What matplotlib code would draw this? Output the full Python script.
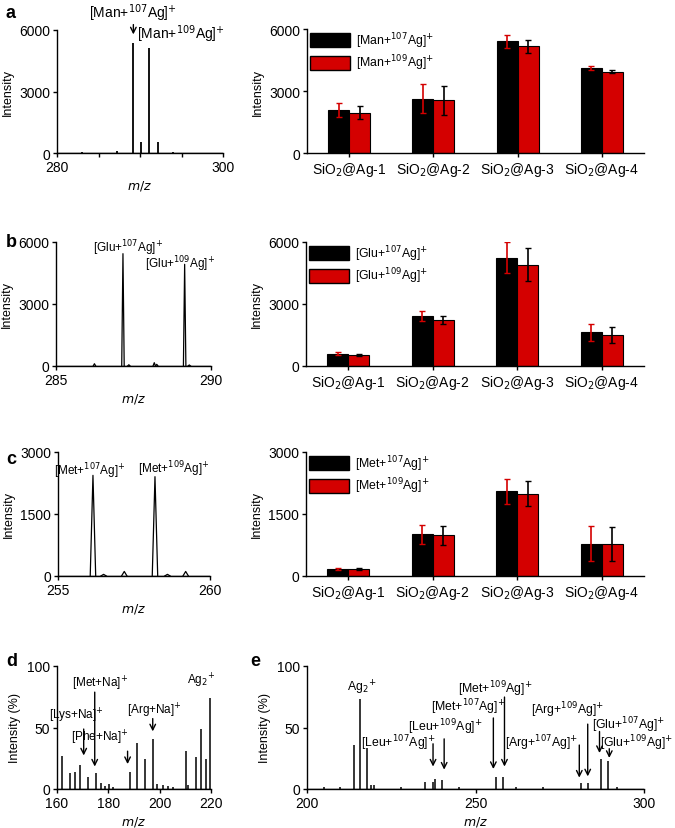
import matplotlib
matplotlib.use('Agg')
import matplotlib.pyplot as plt
from matplotlib.patches import Patch
import numpy as np

plt.rcParams['font.family'] = ['Liberation Sans', 'DejaVu Sans']
plt.rcParams['axes.linewidth'] = 1.0

W, H = 675, 829
RED = '#d40000'

# ---- bar data (a, b, c) ----
samples = ['SiO$_2$@Ag-1', 'SiO$_2$@Ag-2', 'SiO$_2$@Ag-3', 'SiO$_2$@Ag-4']

man_107 = [2080, 2630, 5400, 4130]
man_107_err = [350, 700, 300, 100]
man_109 = [1950, 2550, 5160, 3935]
man_109_err = [320, 700, 300, 70]

glu_107 = [590, 2410, 5250, 1640]
glu_107_err = [70, 230, 770, 410]
glu_109 = [545, 2215, 4895, 1510]
glu_109_err = [50, 190, 800, 380]

met_107 = [180, 1005, 2045, 780]
met_107_err = [25, 235, 310, 420]
met_109 = [170, 990, 1995, 770]
met_109_err = [20, 230, 300, 410]

# ---- spectra: peak centres (m/z) and heights ----
man_mz = [283.0, 287.2, 289.2, 290.1, 291.1, 292.2, 294.0]
man_int = [60, 110, 5380, 520, 5120, 520, 60]

glu_mz = [286.24, 287.16, 287.35, 288.17, 288.25, 289.15, 289.3]
glu_int = [110, 5435, 60, 160, 80, 4920, 50]

met_mz = [256.15, 257.18, 258.19, 259.2, 256.5, 258.6]
met_int = [2435, 110, 2403, 110, 40, 40]

mix_d_mz = [162.1, 165.0, 166.9, 169.1, 172.1, 175.1, 177.1, 178.6, 180.3, 182.0,
            188.3, 191.2, 194.2, 197.3, 198.8, 201.3, 203.4, 205.0, 210.2, 211.2,
            214.1, 216.2, 218.1, 219.5]
mix_d_int = [26.5, 13, 13.5, 19.5, 10, 13, 5, 2.5, 4, 2,
             13.5, 37, 24, 41, 4, 3, 2.5, 2, 30.5, 3,
             26, 49, 24, 74]

mix_e_mz = [205.0, 209.9, 213.8, 215.8, 217.8, 219.0, 220.0, 228.0, 235.1, 237.4,
            238.0, 240.1, 245.0, 256.1, 258.1, 262.0, 270.0, 281.2, 283.3, 287.2,
            289.2, 292.0]
mix_e_int = [1.5, 2, 36, 73, 33, 3, 3, 1.5, 6, 5.5,
             8.5, 7, 1.5, 9.5, 10, 1.5, 1.5, 5, 5, 24,
             22.5, 1.5]


def px_axes(left, right, top, bottom):
    return fig.add_axes([left / W, 1 - bottom / H, (right - left) / W, (bottom - top) / H])


def style(ax):
    ax.spines['top'].set_visible(False)
    ax.spines['right'].set_visible(False)
    ax.tick_params(direction='out', length=3, width=1, labelsize=10, pad=2)


def bar_panel(ax, v107, e107, v109, e109, lab107, lab109, ymax):
    x = np.arange(len(samples))
    w = 0.25
    ax.bar(x - w / 2, v107, w, color='black', edgecolor='black', linewidth=0.8)
    ax.bar(x + w / 2, v109, w, color=RED, edgecolor='black', linewidth=0.8)
    ax.errorbar(x - w / 2, v107, yerr=e107, fmt='none', ecolor=RED, elinewidth=1.2, capsize=2)
    ax.errorbar(x + w / 2, v109, yerr=e109, fmt='none', ecolor='black', elinewidth=1.2, capsize=2)
    ax.set_xlim(-0.5, 3.5)
    ax.set_ylim(0, ymax)
    ax.set_yticks([0, ymax / 2, ymax])
    ax.set_xticks(x)
    ax.set_xticklabels(samples, fontsize=8.8)
    ax.set_ylabel('Intensity', fontsize=9, labelpad=4)
    style(ax)
    handles = [Patch(facecolor='black', edgecolor='black'),
               Patch(facecolor=RED, edgecolor='black')]
    ax.legend(handles, [lab107, lab109], loc='upper left', frameon=False, fontsize=8.8,
              handlelength=3.3, handleheight=1.4, handletextpad=0.45, borderaxespad=0.0,
              borderpad=0.1, labelspacing=0.25, bbox_to_anchor=(0.005, 1.0))


def stick_spectrum(ax, mz, inten, lw=1.2):
    ax.vlines(mz, 0, inten, color='black', linewidth=lw)
    ax.axhline(0, color='black', linewidth=1.0)


def peak_spectrum(ax, mz, inten, hw):
    for c, h in zip(mz, inten):
        ax.plot([c - hw, c, c + hw], [0, h, 0], color='black', linewidth=0.9)
    ax.axhline(0, color='black', linewidth=1.0)


def mz_label(ax):
    ax.set_xlabel('$m/z$', fontsize=9, labelpad=3)


fig = plt.figure(figsize=(W / 100, H / 100), dpi=100)

# ---- a ----
ax = px_axes(57, 223, 31, 154)
stick_spectrum(ax, man_mz, man_int, lw=1.3)
ax.set_xlim(280, 300)
ax.set_ylim(0, 6000)
ax.set_xticks([280, 285, 290, 295, 300])
ax.set_xticklabels(['280', '', '', '', '300'])
ax.set_yticks([0, 3000, 6000])
ax.set_ylabel('Intensity', fontsize=9, labelpad=4)
mz_label(ax)
style(ax)
ax.text(289.2, 6850, '[Man+$^{107}$Ag]$^{+}$', fontsize=10, ha='center', va='center', clip_on=False)
ax.annotate('', xy=(289.2, 5650), xytext=(289.2, 6400),
            arrowprops=dict(arrowstyle='->', lw=1.0, color='black'), annotation_clip=False)
ax.text(295.0, 5850, '[Man+$^{109}$Ag]$^{+}$', fontsize=10, ha='center', va='center', clip_on=False)

ax = px_axes(307, 644, 30, 154)
bar_panel(ax, man_107, man_107_err, man_109, man_109_err,
          '[Man+$^{107}$Ag]$^{+}$', '[Man+$^{109}$Ag]$^{+}$', 6000)

# ---- b ----
ax = px_axes(56, 211, 243, 367)
peak_spectrum(ax, glu_mz, glu_int, 0.04)
ax.set_xlim(285, 290)
ax.set_ylim(0, 6000)
ax.set_xticks([285, 290])
ax.set_yticks([0, 3000, 6000])
ax.set_ylabel('Intensity', fontsize=9, labelpad=4)
mz_label(ax)
style(ax)
ax.text(287.34, 5750, '[Glu+$^{107}$Ag]$^{+}$', fontsize=8.5, ha='center', va='center', clip_on=False)
ax.text(289.0, 4950, '[Glu+$^{109}$Ag]$^{+}$', fontsize=8.5, ha='center', va='center', clip_on=False)

ax = px_axes(306, 644, 243, 367)
bar_panel(ax, glu_107, glu_107_err, glu_109, glu_109_err,
          '[Glu+$^{107}$Ag]$^{+}$', '[Glu+$^{109}$Ag]$^{+}$', 6000)

# ---- c ----
ax = px_axes(58, 210, 453, 577)
peak_spectrum(ax, met_mz, met_int, 0.09)
ax.set_xlim(255, 260)
ax.set_ylim(0, 3000)
ax.set_xticks([255, 260])
ax.set_yticks([0, 1500, 3000])
ax.set_ylabel('Intensity', fontsize=9, labelpad=4)
mz_label(ax)
style(ax)
ax.text(256.05, 2560, '[Met+$^{107}$Ag]$^{+}$', fontsize=8.5, ha='center', va='center')
ax.text(258.8, 2600, '[Met+$^{109}$Ag]$^{+}$', fontsize=8.5, ha='center', va='center', clip_on=False)

ax = px_axes(306, 644, 453, 577)
bar_panel(ax, met_107, met_107_err, met_109, met_109_err,
          '[Met+$^{107}$Ag]$^{+}$', '[Met+$^{109}$Ag]$^{+}$', 3000)

# ---- d ----
ax = px_axes(57, 211, 667, 790)
stick_spectrum(ax, mix_d_mz, mix_d_int, lw=1.1)
ax.set_xlim(160, 220)
ax.set_ylim(0, 100)
ax.set_xticks([160, 180, 200, 220])
ax.set_yticks([0, 50, 100])
ax.set_ylabel('Intensity (%)', fontsize=9, labelpad=4)
mz_label(ax)
style(ax)
arrow = dict(arrowstyle='->', lw=1.0, color='black')
d_arrows = [(170.4, 51, 25), (174.7, 81, 16), (187.5, 33, 18), (197.3, 59.5, 44.6)]
for xa, yt, yh in d_arrows:
    ax.annotate('', xy=(xa, yh), xytext=(xa, yt), arrowprops=arrow)
ax.text(167.6, 60, '[Lys+Na]$^{+}$', fontsize=8.5, ha='center', va='center')
ax.text(176.7, 86, '[Met+Na]$^{+}$', fontsize=8.5, ha='center', va='center')
ax.text(176.7, 42, '[Phe+Na]$^{+}$', fontsize=8.5, ha='center', va='center')
ax.text(197.8, 64, '[Arg+Na]$^{+}$', fontsize=8.5, ha='center', va='center')
ax.text(216.3, 89, 'Ag$_2$$^{+}$', fontsize=8.5, ha='center', va='center')

# ---- e ----
ax = px_axes(307, 644, 667, 790)
stick_spectrum(ax, mix_e_mz, mix_e_int, lw=1.1)
ax.set_xlim(200, 300)
ax.set_ylim(0, 100)
ax.set_xticks([200, 250, 300])
ax.set_yticks([0, 50, 100])
ax.set_ylabel('Intensity (%)', fontsize=9, labelpad=4)
mz_label(ax)
style(ax)
e_arrows = [(237.4, 39, 16), (240.7, 43, 13.5), (255.3, 60, 14), (258.6, 77, 16),
            (280.8, 38, 7), (283.3, 55, 8), (286.8, 49, 27), (289.7, 35, 23)]
for xa, yt, yh in e_arrows:
    ax.annotate('', xy=(xa, yh), xytext=(xa, yt), arrowprops=arrow)
e_labels = [(216.3, 83, 'Ag$_2$$^{+}$'),
            (227.2, 38, '[Leu+$^{107}$Ag]$^{+}$'),
            (241.0, 51, '[Leu+$^{109}$Ag]$^{+}$'),
            (248.0, 67, '[Met+$^{107}$Ag]$^{+}$'),
            (255.8, 82, '[Met+$^{109}$Ag]$^{+}$'),
            (277.4, 65, '[Arg+$^{109}$Ag]$^{+}$'),
            (269.7, 38, '[Arg+$^{107}$Ag]$^{+}$'),
            (295.4, 53, '[Glu+$^{107}$Ag]$^{+}$'),
            (297.8, 38, '[Glu+$^{109}$Ag]$^{+}$')]
for xl, yl, s in e_labels:
    ax.text(xl, yl, s, fontsize=8.8, ha='center', va='center', clip_on=False)

# panel letters
for s, xp, yp in [('a', 6, 14), ('b', 6, 243), ('c', 6, 460), ('d', 6, 661), ('e', 250, 661)]:
    fig.text(xp / W, 1 - yp / H, s, fontsize=13, fontweight='bold', ha='left', va='center')

fig.savefig('out.png', dpi=100)
